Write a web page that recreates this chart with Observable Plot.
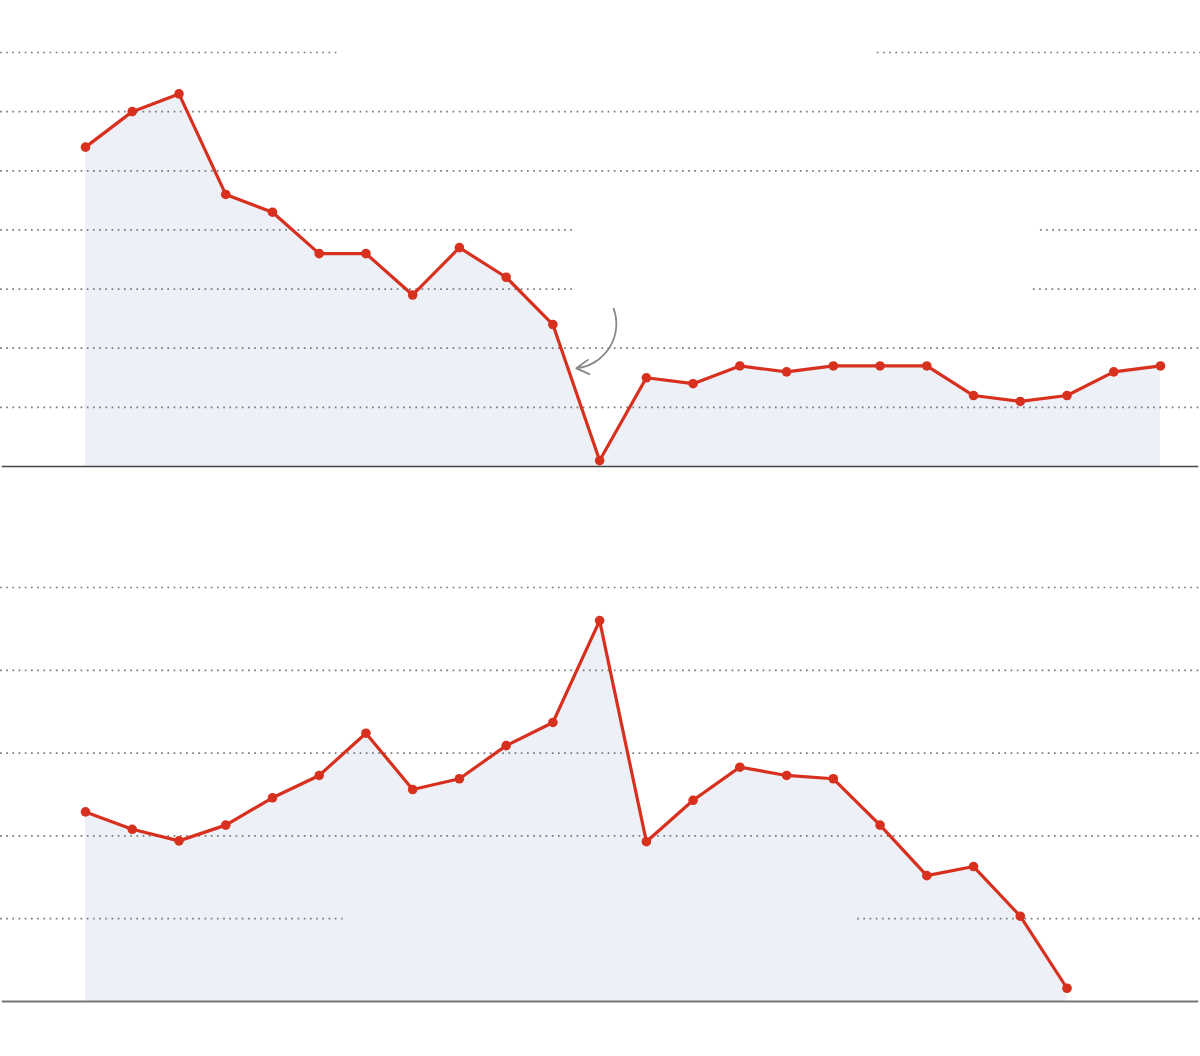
<!DOCTYPE html>
<html>
<head>
<meta charset="utf-8">
<script src="https://cdn.jsdelivr.net/npm/d3@7"></script>
<script src="https://cdn.jsdelivr.net/npm/@observablehq/plot@0.6"></script>
<style>
  html, body { margin: 0; padding: 0; background: #fff; }
  #chart svg { display: block; }
</style>
</head>
<body>
<div id="chart"></div>
<script>
// ---- Data ----
const topValues = [5.4, 6.0, 6.3, 4.6, 4.3, 3.6, 3.6, 2.9, 3.7, 3.2, 2.4, 0.1,
                   1.5, 1.4, 1.7, 1.6, 1.7, 1.7, 1.7, 1.2, 1.1, 1.2, 1.6, 1.7];
const bottomValues = [2.29, 2.08, 1.94, 2.13, 2.46, 2.73, 3.24, 2.56, 2.69, 3.09, 3.37, 4.6,
                      1.93, 2.43, 2.83, 2.73, 2.69, 2.13, 1.52, 1.63, 1.03, 0.16];
const topGridFull = [1, 2, 5, 6];
const bottomGridFull = [2, 3, 4, 5];
// broken gridlines (gaps left for labels), in x-index units
const topGridSegments = [
  {y: 7, x1: -1.82, x2: 5.46}, {y: 7, x1: 16.94, x2: 23.86},
  {y: 4, x1: -1.82, x2: 10.44}, {y: 4, x1: 20.43, x2: 23.86},
  {y: 3, x1: -1.82, x2: 10.44}, {y: 3, x1: 20.28, x2: 23.86}
];
const bottomGridSegments = [
  {y: 1, x1: -1.82, x2: 5.61}, {y: 1, x1: 16.52, x2: 23.86}
];
const arrowData = [{x1: 11.3, y1: 2.67, x2: 10.5, y2: 1.66}];

const RED = "#d8301f";
const FILL = "#edf0f7";
const GRID = {stroke: "#7a7a7a", strokeWidth: 1.7, strokeDasharray: "1.7 4.5"};

function chart(values, opts) {
  const data = values.map((v, i) => ({i, v}));
  return Plot.plot({
    width: 1200,
    height: opts.height,
    marginTop: opts.marginTop,
    marginBottom: opts.marginBottom,
    marginLeft: 0,
    marginRight: 0,
    x: {domain: [0, 23], range: [85, 1160], axis: null},
    y: {domain: opts.domain, axis: null},
    marks: [
      Plot.areaY(data, {x: "i", y: "v", fill: FILL}),
      Plot.ruleY(opts.full, {...GRID}),
      Plot.ruleY(opts.segments, {y: "y", x1: "x1", x2: "x2", ...GRID}),
      Plot.ruleY([0], {x1: -1.78, x2: 23.82, stroke: opts.baseColor, strokeWidth: opts.baseWidth}),
      Plot.lineY(data, {x: "i", y: "v", stroke: RED, strokeWidth: 3.2}),
      Plot.dot(data, {x: "i", y: "v", fill: RED, r: 4.8}),
      ...(opts.arrow ? [Plot.arrow(opts.arrow, {x1: "x1", y1: "y1", x2: "x2", y2: "y2", bend: 52,
        stroke: "#888", strokeWidth: 1.8, headLength: 12})] : [])
    ]
  });
}

const el = document.getElementById("chart");
el.append(chart(topValues, {height: 500, marginTop: 52, marginBottom: 34, domain: [0, 7],
  full: topGridFull, segments: topGridSegments, baseColor: "#444", baseWidth: 1.5, arrow: arrowData}));
el.append(chart(bottomValues, {height: 556, marginTop: 87, marginBottom: 55, domain: [0, 5],
  full: bottomGridFull, segments: bottomGridSegments, baseColor: "#777", baseWidth: 2}));
</script>
</body>
</html>
